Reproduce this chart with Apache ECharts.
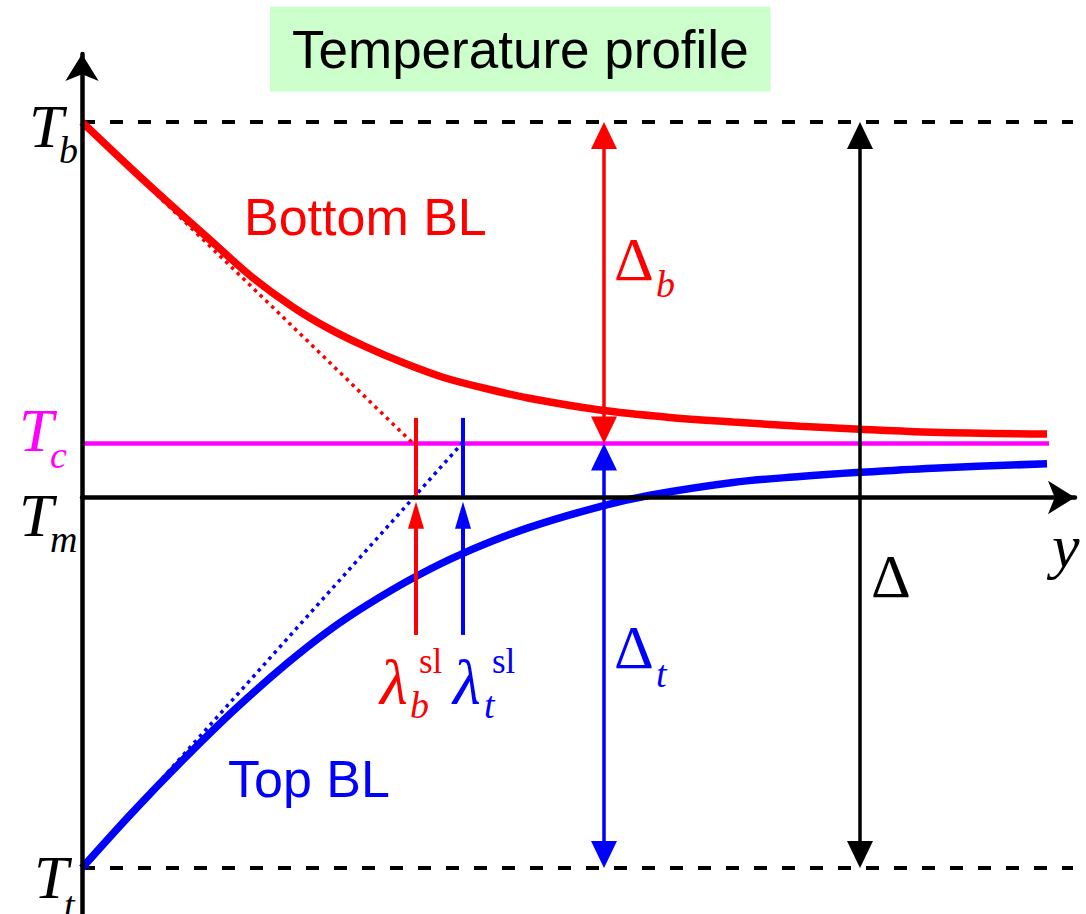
<!DOCTYPE html>
<html><head><meta charset="utf-8">
<script src="https://cdn.jsdelivr.net/npm/echarts@6/dist/echarts.min.js"></script>
<style>html,body{margin:0;padding:0;background:#fff}#c{width:1086px;height:914px}</style>
</head><body><div id="c"></div>
<script>
// ---- data (y axis: temperature, Tm = 0, Tb = 1; x axis: depth coordinate y) ----
const levelLabels = ['T_b', 'T_c', 'T_m', 'T_t'];
const levelValues = [1.0, 0.144, 0.0, -0.987];

const bottomBLx = [0, 0.67, 1.36, 1.70, 2.11, 2.46, 2.84, 3.22, 3.60, 4.01, 4.46, 5.18, 5.85, 6.51, 7.18, 7.78, 8.51, 9.65];
const bottomBLy = [1.000, 0.832, 0.667, 0.587, 0.507, 0.451, 0.401, 0.358, 0.321, 0.292, 0.265, 0.233, 0.214, 0.201, 0.190, 0.182, 0.174, 0.169];

const topBLx = [0, 0.50, 1.01, 1.53, 2.05, 2.46, 2.84, 3.32, 3.80, 4.46, 5.18, 5.68, 6.51, 7.18, 7.78, 8.51, 9.65];
const topBLy = [-0.987, -0.840, -0.699, -0.564, -0.442, -0.356, -0.288, -0.213, -0.150, -0.081, -0.024, 0.006, 0.040, 0.056, 0.067, 0.078, 0.090];

const tangentBottomX = [0, 3.31];   // slope-line of bottom BL, from Tb down to Tc
const tangentTopX = [0, 3.80];      // slope-line of top BL, from Tt up to Tc
const dashedEnd = 9.91;
const tcEnd = 9.67;

const lambdaX = [3.34, 3.81];       // lambda_b^sl, lambda_t^sl
const lambdaTick = [0, 0.212];
const lambdaArrow = [-0.366, -0.011];
const deltaX = [5.22, 7.78];        // Delta_b / Delta_t arrows, Delta arrow

const xMax = 9.93, yMin = -1.1092, yMax = 1.1811;

// ---- build ----
const RED = '#ff0000', BLUE = '#0000ff', MAG = '#ff00ff', BLK = '#000000';
const serif = '"Liberation Serif", "Times New Roman", serif';
const sans = '"Liberation Sans", Arial, sans-serif';

function zip(xs, ys) { return xs.map((x, i) => [x, ys[i]]); }
function hline(y, x0, x1) { return [[x0, y], [x1, y]]; }

const arrows = [
  { v: [lambdaX[0], lambdaTick[0], lambdaTick[1]], c: RED, heads: 'none', w: 4, hw: 0, hl: 0 },
  { v: [lambdaX[1], lambdaTick[0], lambdaTick[1]], c: BLUE, heads: 'none', w: 4, hw: 0, hl: 0 },
  { v: [lambdaX[0], lambdaArrow[0], lambdaArrow[1]], c: RED, heads: 'end', w: 4, hw: 16, hl: 27 },
  { v: [lambdaX[1], lambdaArrow[0], lambdaArrow[1]], c: BLUE, heads: 'end', w: 4, hw: 16, hl: 27 },
  { v: [deltaX[0], levelValues[1], levelValues[0]], c: RED, heads: 'both', w: 3.5, hw: 26, hl: 27 },
  { v: [deltaX[0], levelValues[3], levelValues[1]], c: BLUE, heads: 'both', w: 3.5, hw: 26, hl: 27 },
  { v: [deltaX[1], levelValues[3], levelValues[0]], c: BLK, heads: 'both', w: 3.5, hw: 26, hl: 27 }
];

function headPoly(tip, dir, hw, hl) {
  const bx = tip[0] - dir[0] * hl, by = tip[1] - dir[1] * hl;
  const px = -dir[1] * hw / 2, py = dir[0] * hw / 2;
  return [[tip[0], tip[1]], [bx + px, by + py], [bx - px, by - py]];
}

function renderArrow(params, api) {
  const a = arrows[params.dataIndex];
  const p1 = api.coord([api.value(0), api.value(1)]);
  const p2 = api.coord([api.value(0), api.value(2)]);
  const dx = p2[0] - p1[0], dy = p2[1] - p1[1];
  const L = Math.sqrt(dx * dx + dy * dy);
  const d = [dx / L, dy / L];
  let s = p1.slice(), e = p2.slice();
  const children = [];
  if (a.heads === 'end' || a.heads === 'both') {
    e = [p2[0] - d[0] * (a.hl - 2), p2[1] - d[1] * (a.hl - 2)];
    children.push({ type: 'polygon', shape: { points: headPoly(p2, d, a.hw, a.hl) }, style: { fill: a.c } });
  }
  if (a.heads === 'both') {
    s = [p1[0] + d[0] * (a.hl - 2), p1[1] + d[1] * (a.hl - 2)];
    children.push({ type: 'polygon', shape: { points: headPoly(p1, [-d[0], -d[1]], a.hw, a.hl) }, style: { fill: a.c } });
  }
  children.unshift({ type: 'line', shape: { x1: s[0], y1: s[1], x2: e[0], y2: e[1] }, style: { stroke: a.c, lineWidth: a.w } });
  return { type: 'group', children };
}

const notes = [
  { v: [-0.53, 0.989], t: 'T', f: 'italic 62px ' + serif, c: BLK },
  { v: [-0.23, 0.925], t: 'b', f: 'italic 38px ' + serif, c: BLK },
  { v: [-0.63, 0.180], t: 'T', f: 'italic 62px ' + serif, c: MAG },
  { v: [-0.32, 0.113], t: 'c', f: 'italic 38px ' + serif, c: MAG },
  { v: [-0.63, -0.047], t: 'T', f: 'italic 62px ' + serif, c: BLK },
  { v: [-0.32, -0.111], t: 'm', f: 'italic 38px ' + serif, c: BLK },
  { v: [-0.48, -1.011], t: 'T', f: 'italic 62px ' + serif, c: BLK },
  { v: [-0.18, -1.085], t: 't', f: 'italic 38px ' + serif, c: BLK },
  { v: [1.62, 0.747], t: 'Bottom BL', f: '52px ' + sans, c: RED },
  { v: [1.46, -0.750], t: 'Top BL', f: '52px ' + sans, c: BLUE },
  { v: [5.32, 0.634], t: '\u0394', f: '62px ' + serif, c: RED },
  { v: [5.74, 0.569], t: 'b', f: 'italic 38px ' + serif, c: RED },
  { v: [5.32, -0.399], t: '\u0394', f: '62px ' + serif, c: BLUE },
  { v: [5.74, -0.470], t: 't', f: 'italic 38px ' + serif, c: BLUE },
  { v: [7.89, -0.210], t: '\u0394', f: '62px ' + serif, c: BLK },
  { v: [9.70, -0.129], t: 'y', f: 'italic 62px ' + serif, c: BLK },
  { v: [2.98, -0.494], t: '\u03bb', f: 'italic 64px ' + serif, c: RED },
  { v: [3.28, -0.553], t: 'b', f: 'italic 38px ' + serif, c: RED },
  { v: [3.37, -0.437], t: 'sl', f: '35px ' + serif, c: RED },
  { v: [3.71, -0.494], t: '\u03bb', f: 'italic 64px ' + serif, c: BLUE },
  { v: [4.02, -0.553], t: 't', f: 'italic 38px ' + serif, c: BLUE },
  { v: [4.10, -0.437], t: 'sl', f: '35px ' + serif, c: BLUE }
];

function renderNote(params, api) {
  const n = notes[params.dataIndex];
  const p = api.coord([api.value(0), api.value(1)]);
  return { type: 'text', x: p[0], y: p[1], style: { text: n.t, font: n.f, fill: n.c, align: 'left', verticalAlign: 'middle' } };
}

function lineSeries(data, color, width, type, z, extra) {
  return Object.assign({ type: 'line', data, showSymbol: false, symbol: 'none', silent: true, z,
    lineStyle: { color, width, type, cap: 'butt' } }, extra || {});
}

const chart = echarts.init(document.getElementById('c'), null, { renderer: 'svg' });
chart.setOption({
  animation: false,
  backgroundColor: '#ffffff',
  title: {
    text: 'Temperature profile', left: 270, top: 7, padding: [16, 22],
    backgroundColor: '#ccffcc',
    textStyle: { fontSize: 53, fontFamily: sans, fontWeight: 'normal', color: '#000', lineHeight: 52 }
  },
  grid: { left: 82, right: 11, top: 54, bottom: 0, containLabel: false, outerBoundsMode: 'none' },
  xAxis: {
    type: 'value', min: 0, max: xMax, z: 6,
    axisLine: { show: true, onZero: true, symbol: ['none', 'arrow'], symbolSize: [25, 27], lineStyle: { color: BLK, width: 4.5 } },
    axisTick: { show: false }, axisLabel: { show: false }, splitLine: { show: false }
  },
  yAxis: {
    type: 'value', min: yMin, max: yMax, z: 6,
    axisLine: { show: true, onZero: false, symbol: ['none', 'arrow'], symbolSize: [25, 27], lineStyle: { color: BLK, width: 4.5 } },
    axisTick: { show: false }, axisLabel: { show: false }, splitLine: { show: false }
  },
  series: [
    lineSeries(hline(levelValues[0], 0, dashedEnd), BLK, 4, [13, 15], 1),
    lineSeries(hline(levelValues[3], 0, dashedEnd), BLK, 4, [13, 15], 1),
    lineSeries(hline(levelValues[1], 0, tcEnd), MAG, 4.5, 'solid', 2),
    lineSeries(zip(tangentBottomX, [levelValues[0], levelValues[1]]), RED, 3.5, [3.5, 4.5], 2),
    lineSeries(zip(tangentTopX, [levelValues[3], levelValues[1]]), BLUE, 3.5, [3.5, 4.5], 2),
    lineSeries(zip(bottomBLx, bottomBLy), RED, 7.5, 'solid', 3, { smooth: 0.35 }),
    lineSeries(zip(topBLx, topBLy), BLUE, 7.5, 'solid', 3, { smooth: 0.35 }),
    { type: 'custom', silent: true, z: 4, renderItem: renderArrow, data: arrows.map(a => a.v) },
    { type: 'custom', silent: true, z: 8, clip: false, renderItem: renderNote, data: notes.map(n => n.v) }
  ]
});
</script></body></html>
